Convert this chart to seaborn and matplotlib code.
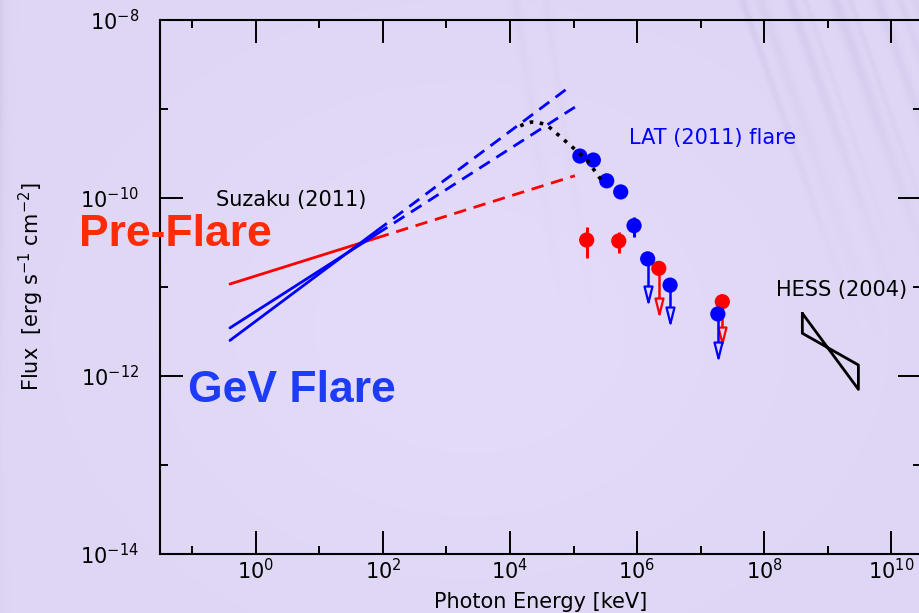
import numpy as np
import matplotlib
matplotlib.use("Agg")
import matplotlib.pyplot as plt
from matplotlib.path import Path
from matplotlib.ticker import FixedLocator, FixedFormatter, NullFormatter
import seaborn as sns

# ---------------- data (energy in keV, flux in erg s^-1 cm^-2) ----------------
# Suzaku (2011) power laws: fitted band (solid) and extrapolation (dashed)
preflare_fit_kev = [0.39, 80.0]
preflare_fit_flux = [1.08e-11, 3.56e-11]
preflare_ext_kev = [80.0, 1.05e5]
preflare_ext_flux = [3.56e-11, 1.78e-10]

flare_hard_fit_kev = [0.39, 80.0]
flare_hard_fit_flux = [2.51e-12, 4.28e-11]
flare_hard_ext_kev = [80.0, 8.7e4]
flare_hard_ext_flux = [4.28e-11, 1.78e-9]

flare_soft_fit_kev = [0.39, 80.0]
flare_soft_fit_flux = [3.47e-12, 3.94e-11]
flare_soft_ext_kev = [80.0, 1.05e5]
flare_soft_ext_flux = [3.94e-11, 1.05e-9]

# curve bridging the X-ray extrapolation and the LAT spectrum
bridge_kev = [1.45e4, 1.78e4, 2.19e4, 2.9e4, 3.8e4, 6.17e4, 1.0e5, 1.62e5, 2.75e5]
bridge_flux = [6.46e-10, 6.9e-10, 7.14e-10, 7.0e-10, 6.61e-10, 4.9e-10,
               3.63e-10, 2.69e-10, 1.58e-10]

# Fermi-LAT (2011) flare
lat_flare_kev = [1.26e5, 2.05e5, 3.33e5, 5.53e5, 8.97e5]
lat_flare_flux = [2.96e-10, 2.67e-10, 1.56e-10, 1.17e-10, 4.89e-11]
lat_flare_lo = [2.96e-10, 2.67e-10, 1.56e-10, 1.17e-10, 3.68e-11]
lat_flare_hi = [2.96e-10, 2.67e-10, 1.56e-10, 1.17e-10, 6.16e-11]
lat_flare_ul_kev = [1.47e6, 3.31e6, 1.87e7]
lat_flare_ul_flux = [2.07e-11, 1.05e-11, 4.98e-12]
lat_flare_ul_tip = [6.84e-12, 3.91e-12, 1.58e-12]

# Fermi-LAT pre-flare
preflare_kev = [1.61e5, 5.15e5]
preflare_flux = [3.37e-11, 3.29e-11]
preflare_lo = [2.13e-11, 2.43e-11]
preflare_hi = [4.77e-11, 4.18e-11]
preflare_ul_kev = [2.2e6, 2.2e7]
preflare_ul_flux = [1.62e-11, 6.84e-12]
preflare_ul_tip = [4.93e-12, 2.33e-12]

# HESS (2004) butterfly outline
hess_kev = [4.0e8, 3.05e9, 3.05e9, 4.0e8, 4.0e8]
hess_flux = [5.06e-12, 7.08e-13, 1.33e-12, 3.02e-12, 5.06e-12]

# axis ticks
x_major = [1e0, 1e2, 1e4, 1e6, 1e8, 1e10]
x_major_labels = [r"$10^{0}$", r"$10^{2}$", r"$10^{4}$", r"$10^{6}$",
                  r"$10^{8}$", r"$10^{10}$"]
x_minor = [1e-1, 1e1, 1e3, 1e5, 1e7, 1e9]
y_major = [1e-14, 1e-12, 1e-10, 1e-8]
y_major_labels = [r"$10^{-14}$", r"$10^{-12}$", r"$10^{-10}$", r"$10^{-8}$"]
y_minor = [1e-13, 1e-11, 1e-9]

# ---------------- style ----------------
sns.set_style("ticks")
plt.rcParams["font.family"] = ["DejaVu Sans"]
plt.rcParams.update({"text.color": "black", "axes.labelcolor": "black",
                     "xtick.color": "black", "ytick.color": "black"})

BG = "#dfd6f5"
BLUE = "#0000ff"
RED = "#ff0000"

W, H = 920, 613
fig = plt.figure(figsize=(W / 100, H / 100), dpi=100)
fig.patch.set_facecolor(BG)

# slide-like background: lavender, shaded left edge, soft diagonal streaks
bg_ax = fig.add_axes([0, 0, 1, 1], zorder=-10)
bg_ax.set_axis_off()
yy, xx = np.mgrid[0:H, 0:W].astype(float)
base = np.array([223, 214, 245], float) / 255
img = np.ones((H, W, 3)) * base
light = np.exp(-(((xx - 470) / 330.0) ** 2 + ((yy - 330) / 260.0) ** 2))
img += light[..., None] * np.array([5, 5, 3]) / 255
edge = np.exp(-xx / 4.5) * np.clip(1.2 - yy / 420.0, 0.25, 1.0)
img = img * (1 - 0.25 * edge[..., None]) + 0.25 * edge[..., None] * np.array([175, 168, 195]) / 255
shade = np.zeros((H, W))
fade = np.clip(1.0 - yy / 340.0, 0, 1)
for x0, slope, amp, wid in [(742, 0.35, 0.09, 4), (760, 0.35, 0.06, 6),
                            (790, 0.35, 0.09, 5), (805, 0.35, 0.05, 3),
                            (835, 0.35, 0.09, 6), (850, 0.35, 0.06, 3),
                            (878, 0.35, 0.08, 5), (900, 0.35, 0.06, 4),
                            (915, 0.35, 0.05, 5), (515, 0.15, 0.04, 5),
                            (545, 0.15, 0.035, 4)]:
    d = (xx - (x0 + slope * yy)) / np.sqrt(1 + slope ** 2)
    shade += amp * np.exp(-(d / wid) ** 2) * fade
img = img * (1 - shade[..., None]) + shade[..., None] * np.array([110, 95, 150]) / 255
bg_ax.imshow(np.clip(img, 0, 1), extent=[0, W, H, 0], aspect="auto")
bg_ax.set_xlim(0, W)
bg_ax.set_ylim(H, 0)

ax = fig.add_axes([160 / W, (H - 554) / H, 761 / W, 534 / H])
ax.set_facecolor("none")
ax.set_xscale("log")
ax.set_yscale("log")
ax.set_xlim(10 ** -1.51, 10 ** 10.47)
ax.set_ylim(1e-14, 1e-8)

# ---------------- X-ray power laws ----------------
def seg(xs, ys, color, ls):
    sns.lineplot(x=xs, y=ys, color=color, linewidth=2.0, linestyle=ls,
                 sort=False, estimator=None, ax=ax, zorder=3)

dash = (0, (4.5, 2.8))
seg(preflare_fit_kev, preflare_fit_flux, RED, "-")
seg(preflare_ext_kev, preflare_ext_flux, RED, dash)
seg(flare_hard_fit_kev, flare_hard_fit_flux, BLUE, "-")
seg(flare_hard_ext_kev, flare_hard_ext_flux, BLUE, dash)
seg(flare_soft_fit_kev, flare_soft_fit_flux, BLUE, "-")
seg(flare_soft_ext_kev, flare_soft_ext_flux, BLUE, dash)

# HESS butterfly
sns.lineplot(x=hess_kev, y=hess_flux, color="black", linewidth=2.0, sort=False,
             estimator=None, ax=ax, zorder=3)

# ---------------- LAT points ----------------
tri = Path([(-0.25, 1.0), (0.25, 1.0), (0.0, 0.0), (-0.25, 1.0)],
           [Path.MOVETO, Path.LINETO, Path.LINETO, Path.CLOSEPOLY])

def upper_limits(xs, ys, tips, color, z):
    ax.vlines(xs, tips, ys, color=color, linewidth=1.8, zorder=z)
    ax.plot(xs, tips, linestyle="none", marker=tri, markersize=23,
            markerfacecolor=BG, markeredgecolor=color, markeredgewidth=1.6,
            zorder=z + 0.1)
    sns.scatterplot(x=xs, y=ys, color=color, s=120, edgecolor="none",
                    ax=ax, zorder=z + 0.2, legend=False)

def detections(xs, ys, lo, hi, color, z):
    ax.vlines(xs, lo, hi, color=color, linewidth=2.2, zorder=z)
    sns.scatterplot(x=xs, y=ys, color=color, s=120, edgecolor="none",
                    ax=ax, zorder=z + 0.2, legend=False)

detections(preflare_kev, preflare_flux, preflare_lo, preflare_hi, RED, 4)
upper_limits(preflare_ul_kev, preflare_ul_flux, preflare_ul_tip, RED, 4)
detections(lat_flare_kev, lat_flare_flux, lat_flare_lo, lat_flare_hi, BLUE, 5)
upper_limits(lat_flare_ul_kev, lat_flare_ul_flux, lat_flare_ul_tip, BLUE, 5)

# bridging curve drawn over the markers
sns.lineplot(x=bridge_kev, y=bridge_flux, color="black", linewidth=2.6,
             linestyle=(0, (1.0, 1.8)), sort=False, estimator=None, ax=ax, zorder=7)

# ---------------- annotations ----------------
ax.text(10 ** -0.63, 10 ** -10.02, "Suzaku (2011)", fontsize=15, color="black",
        ha="left", va="center")
ax.text(10 ** 5.88, 10 ** -9.33, "LAT (2011) flare", fontsize=15, color=BLUE,
        ha="left", va="center")
ax.text(10 ** 8.18, 10 ** -11.03, "HESS (2004)", fontsize=15, color="black",
        ha="left", va="center")
ax.text(10 ** -1.27, 10 ** -10.539, "Pre-Flare", fontsize=32, fontweight="bold",
        family="Liberation Sans", color="#ff2a06", ha="center", va="baseline")
ax.text(10 ** 0.57, 10 ** -12.289, "GeV Flare", fontsize=32, fontweight="bold",
        family="Liberation Sans", color="#1e3cf8", ha="center", va="baseline")

# ---------------- axes ----------------
ax.xaxis.set_major_locator(FixedLocator(x_major))
ax.xaxis.set_major_formatter(FixedFormatter(x_major_labels))
ax.xaxis.set_minor_locator(FixedLocator(x_minor))
ax.xaxis.set_minor_formatter(NullFormatter())
ax.yaxis.set_major_locator(FixedLocator(y_major))
ax.yaxis.set_major_formatter(FixedFormatter(y_major_labels))
ax.yaxis.set_minor_locator(FixedLocator(y_minor))
ax.yaxis.set_minor_formatter(NullFormatter())

ax.tick_params(which="both", direction="in", top=True, right=True,
               color="black", labelcolor="black")
ax.tick_params(which="major", length=16.5, width=1.4, labelsize=15)
ax.tick_params(which="minor", length=6, width=1.4)
ax.tick_params(axis="x", which="major", pad=3)
ax.tick_params(axis="y", which="major", pad=15)
for s in ax.spines.values():
    s.set_linewidth(1.5)
    s.set_color("black")

ax.set_xlabel("Photon Energy [keV]", fontsize=15, color="black")
ax.xaxis.set_label_coords(0.5, -0.071)
ax.set_ylabel(r"Flux  [erg s$^{-1}$ cm$^{-2}$]", fontsize=15, color="black")
ax.yaxis.set_label_coords(-0.150, 0.5)

fig.savefig("out.png", dpi=100, facecolor=BG)
